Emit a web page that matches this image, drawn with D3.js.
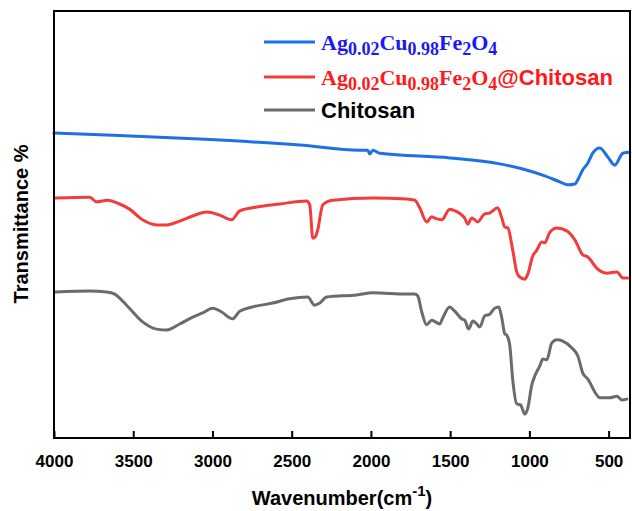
<!DOCTYPE html>
<html>
<head>
<meta charset="utf-8">
<script src="https://cdn.jsdelivr.net/npm/d3@7"></script>
<style>
  body { margin: 0; background: #fff; }
  svg { display: block; }
</style>
</head>
<body>
<div id="chart"></div>
<script>
// Spectra (wavenumber in cm-1, transmittance in arbitrary %)
const ferriteWn = [4000, 3712, 3081, 2450, 2071, 2020, 2007, 1988, 1944, 1503, 1187, 1042, 903, 808, 758, 713, 690, 663, 631, 600, 556, 505, 461, 410, 366];
const ferriteT  = [71.4, 71.0, 70.0, 68.6, 67.4, 67.4, 66.5, 67.4, 66.7, 65.6, 64.2, 63.0, 61.4, 60.0, 59.3, 59.5, 60.8, 62.8, 64.4, 66.7, 67.9, 65.8, 63.9, 66.7, 66.9];

const compositeWn = [3990, 3775, 3731, 3662, 3586, 3523, 3441, 3352, 3289, 3207, 3125, 3037, 2955, 2879, 2828, 2721, 2576, 2405, 2386, 2367, 2348, 2336, 2304, 2241, 1989, 1774, 1724, 1692, 1648, 1616, 1597, 1553, 1503, 1484, 1408, 1389, 1364, 1345, 1326, 1282, 1250, 1200, 1174, 1155, 1136, 1105, 1080, 1061, 1029, 1010, 979, 953, 922, 903, 871, 827, 764, 713, 663, 631, 575, 543, 511, 448, 410, 379];
const compositeT  = [56.2, 56.4, 55.3, 55.7, 54.8, 53.6, 51.1, 49.9, 49.9, 50.8, 52.0, 52.9, 52.2, 51.1, 53.2, 54.1, 54.8, 55.5, 54.6, 46.8, 47.3, 48.7, 54.6, 55.7, 56.2, 56.0, 55.7, 53.9, 50.6, 51.8, 51.5, 51.1, 53.6, 53.4, 51.5, 50.1, 51.5, 51.1, 50.6, 52.5, 52.7, 53.9, 51.5, 49.4, 49.2, 44.0, 38.9, 37.7, 37.2, 38.4, 42.6, 44.0, 45.9, 45.7, 48.2, 49.2, 48.5, 46.4, 42.9, 42.4, 39.8, 38.9, 38.6, 38.9, 37.5, 37.5];

const chitosanWn = [3990, 3775, 3668, 3617, 3542, 3441, 3352, 3289, 3207, 3125, 3062, 2999, 2942, 2873, 2828, 2746, 2620, 2513, 2399, 2355, 2323, 2279, 2090, 1989, 1774, 1724, 1705, 1679, 1648, 1616, 1566, 1547, 1503, 1471, 1427, 1408, 1383, 1357, 1332, 1313, 1282, 1250, 1219, 1193, 1174, 1155, 1143, 1124, 1105, 1080, 1054, 1042, 1029, 1010, 985, 966, 934, 915, 890, 859, 827, 789, 732, 694, 663, 631, 575, 556, 524, 493, 448, 417, 385];
const chitosanT  = [34.2, 34.4, 34.2, 33.7, 31.1, 27.2, 25.5, 25.3, 26.7, 28.3, 29.3, 30.4, 29.5, 27.9, 29.7, 30.7, 31.6, 32.6, 33.0, 31.1, 31.6, 33.0, 33.5, 34.0, 33.7, 33.7, 33.3, 29.5, 26.5, 27.6, 26.7, 28.1, 30.7, 29.7, 27.9, 27.6, 25.5, 27.4, 26.7, 26.0, 28.6, 29.0, 30.4, 30.7, 28.1, 24.4, 24.1, 21.8, 13.6, 8.0, 7.7, 6.6, 5.6, 7.0, 12.4, 14.5, 16.9, 18.5, 18.3, 22.2, 23.0, 22.7, 21.1, 19.2, 15.2, 13.8, 10.1, 9.4, 9.4, 9.4, 9.8, 8.9, 9.1];

const xTicks = [4000, 3500, 3000, 2500, 2000, 1500, 1000, 500];

const series = [
  { key: "ferrite",   wn: ferriteWn,   t: ferriteT,   color: "#1f6fe6", text: "#1a1aee" },
  { key: "composite", wn: compositeWn, t: compositeT, color: "#f23c3c", text: "#ff1a1a" },
  { key: "chitosan",  wn: chitosanWn,  t: chitosanT,  color: "#6b6b6b", text: "#000000" }
];

const W = 632, H = 511;
const margin = { left: 54, right: 2, top: 11, bottom: 73 };

const svg = d3.select("#chart")
  .append("svg")
  .attr("width", W)
  .attr("height", H);

const x = d3.scaleLinear()
  .domain([4000, 365])
  .range([margin.left, W - margin.right]);

const y = d3.scaleLinear()
  .domain([0, 100])
  .range([H - margin.bottom, margin.top]);

// Curves
const line = d3.line()
  .x(d => x(d[0]))
  .y(d => y(d[1]))
  .curve(d3.curveMonotoneX);

for (const s of series) {
  const pts = s.wn.map((w, i) => [w, s.t[i]]);
  svg.append("path")
    .datum(pts)
    .attr("fill", "none")
    .attr("stroke", s.color)
    .attr("stroke-width", 3)
    .attr("stroke-linejoin", "round")
    .attr("stroke-linecap", "round")
    .attr("d", line);
}

// Frame
svg.append("rect")
  .attr("x", margin.left)
  .attr("y", margin.top)
  .attr("width", W - margin.right - margin.left)
  .attr("height", H - margin.bottom - margin.top)
  .attr("fill", "none")
  .attr("stroke", "#000")
  .attr("stroke-width", 2);

// X axis, ticks pointing inward
const xAxis = svg.append("g")
  .attr("transform", `translate(0,${H - margin.bottom})`)
  .call(d3.axisBottom(x).tickValues(xTicks).tickSizeInner(-7).tickSizeOuter(0).tickPadding(17).tickFormat(d3.format("d")));

xAxis.select(".domain").remove();
xAxis.selectAll(".tick line").attr("stroke", "#000").attr("stroke-width", 2);
xAxis.selectAll(".tick text")
  .attr("font-family", "Liberation Sans, Arial, sans-serif")
  .attr("font-weight", "bold")
  .attr("font-size", "17px")
  .attr("fill", "#000");

// Axis titles
const xTitle = svg.append("text")
  .attr("x", (margin.left + W - margin.right) / 2)
  .attr("y", 505)
  .attr("text-anchor", "middle")
  .attr("font-family", "Liberation Sans, Arial, sans-serif")
  .attr("font-weight", "bold")
  .attr("font-size", "20px");
xTitle.append("tspan").text("Wavenumber(cm");
xTitle.append("tspan").attr("font-size", "15px").attr("dy", -9).text("-1");
xTitle.append("tspan").attr("dy", 9).text(")");

svg.append("text")
  .attr("transform", "translate(28,224) rotate(-90)")
  .attr("text-anchor", "middle")
  .attr("font-family", "Liberation Sans, Arial, sans-serif")
  .attr("font-weight", "bold")
  .attr("font-size", "20px")
  .text("Transmittance %");

// Legend
const legendRows = [42, 77, 110];
const serif = "Liberation Serif, Times New Roman, serif";
const sans = "Liberation Sans, Arial, sans-serif";

function formula(t) {
  const parts = [["Ag", 0], ["0.02", 1], ["Cu", 0], ["0.98", 1], ["Fe", 0], ["2", 1], ["O", 0], ["4", 1]];
  let shift = 0;
  for (const [txt, sub] of parts) {
    const want = sub ? 5 : 0;
    t.append("tspan")
      .attr("font-family", serif)
      .attr("font-size", sub ? "18px" : "22px")
      .attr("dy", want - shift)
      .text(txt);
    shift = want;
  }
  return shift;
}

series.forEach((s, i) => {
  const ly = legendRows[i];
  svg.append("line")
    .attr("x1", 264).attr("x2", 315)
    .attr("y1", ly).attr("y2", ly)
    .attr("stroke", s.color)
    .attr("stroke-width", 3);

  const t = svg.append("text")
    .attr("x", 321)
    .attr("y", ly + 8)
    .attr("font-weight", "bold")
    .attr("fill", s.text);

  if (s.key === "chitosan") {
    t.attr("font-family", sans).attr("font-size", "22px").text("Chitosan");
  } else {
    const shift = formula(t);
    if (s.key === "composite") {
      t.append("tspan")
        .attr("font-family", sans)
        .attr("font-size", "22px")
        .attr("dy", -shift)
        .text("@Chitosan");
    }
  }
});
</script>
</body>
</html>
